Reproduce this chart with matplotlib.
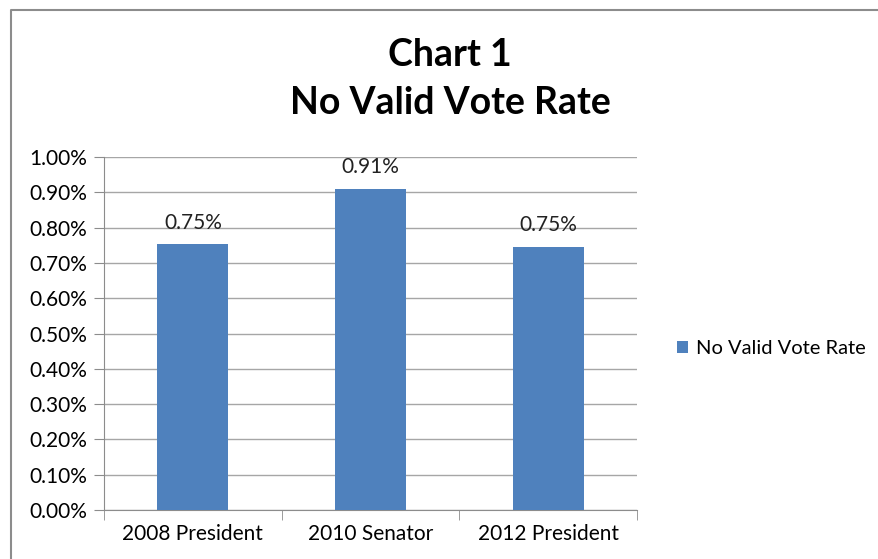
import numpy as np
import matplotlib.pyplot as plt
from matplotlib.lines import Line2D
from matplotlib.ticker import FuncFormatter, FixedLocator

plt.rcParams["font.family"] = ["Lato", "DejaVu Sans"]

categories = ["2008 President", "2010 Senator", "2012 President"]
rates = [0.753, 0.909, 0.746]
labels = ["0.75%", "0.91%", "0.75%"]
series_name = "No Valid Vote Rate"
bar_color = "#4F81BD"

fig = plt.figure(figsize=(8.79, 5.59), dpi=100)
W, H = 879, 559

# chart border (left and top edges visible in the crop)
fig.add_artist(Line2D([11.5 / W, 11.5 / W, 1], [0, 1 - 9.5 / H, 1 - 9.5 / H],
                      transform=fig.transFigure, color="#8c8c8c", lw=1.5))

ax = fig.add_axes([104 / W, 1 - 510 / H, (637 - 104) / W, (510 - 157) / H])
x = np.arange(len(categories))
ax.bar(x, rates, width=0.4, color=bar_color, zorder=3, label=series_name)
for xi, r, t in zip(x, rates, labels):
    ax.text(xi, r + 0.033, t, ha="center", va="bottom", fontsize=15,
            color="#222222", zorder=4)

ax.set_xlim(-0.5, 2.5)
ax.set_ylim(0, 1.0)
ax.yaxis.set_major_locator(FixedLocator(np.arange(0, 1.01, 0.1)))
ax.yaxis.set_major_formatter(FuncFormatter(lambda v, p: "{0:.2f}%".format(v)))
ax.grid(axis="y", color="#a6a6a6", lw=1, zorder=0)
ax.set_xticks(x)
ax.set_xticklabels(categories)
ax.xaxis.set_minor_locator(FixedLocator([-0.5, 0.5, 1.5, 2.5]))
ax.tick_params(axis="x", which="major", length=0, pad=10, labelsize=15)
ax.tick_params(axis="x", which="minor", length=7, color="#8c8c8c")
ax.tick_params(axis="y", length=7, color="#8c8c8c", labelsize=15, pad=5)
for s in ["top", "right"]:
    ax.spines[s].set_visible(False)
for s in ["left", "bottom"]:
    ax.spines[s].set_color("#8c8c8c")

fig.text(450 / W, 1 - 55 / H, "Chart 1", ha="center", va="center",
         fontsize=27, fontweight="bold")
fig.text(450 / W, 1 - 103 / H, "No Valid Vote Rate", ha="center",
         va="center", fontsize=27, fontweight="bold")

fig.legend(loc="center left", bbox_to_anchor=(659 / W, 1 - 349 / H),
           frameon=False, fontsize=14.5, handlelength=0.55, handleheight=0.55,
           handletextpad=0.4)

fig.savefig("out.png", dpi=100)
